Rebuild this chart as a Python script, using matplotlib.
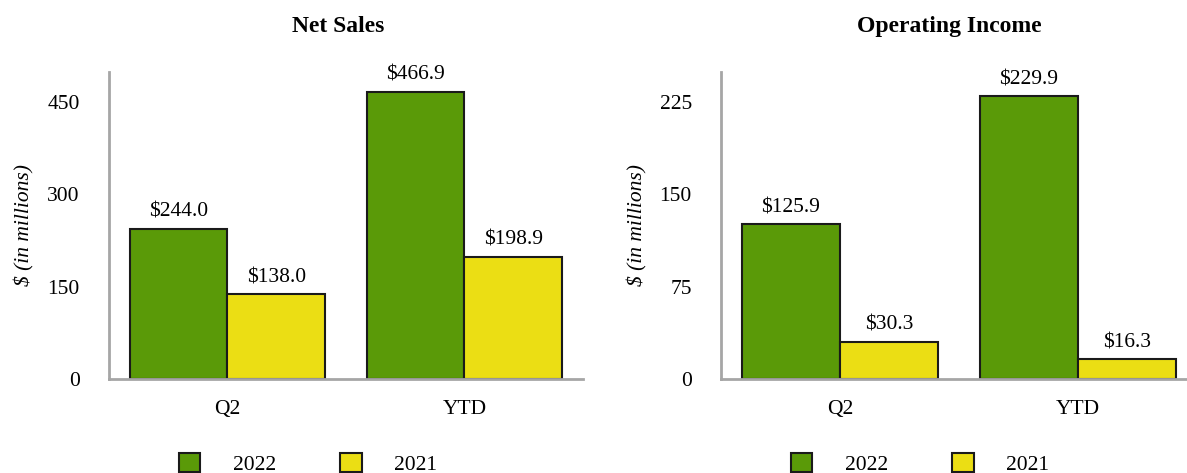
import matplotlib.pyplot as plt
from matplotlib.patches import Patch

# Quarterly results, $ in millions
periods = ["Q2", "YTD"]
net_sales_2022 = [244.0, 466.9]
net_sales_2021 = [138.0, 198.9]
op_income_2022 = [125.9, 229.9]
op_income_2021 = [30.3, 16.3]

GREEN = "#5a9a08"
YELLOW = "#ebde14"
EDGE = "#1a1a1a"
SPINE = "#a6a6a6"

plt.rcParams["font.family"] = ["Liberation Serif", "DejaVu Serif"]

fig = plt.figure(figsize=(11.87, 4.73), dpi=100)


def draw_panel(rect, title, title_x, vals_new, vals_old, ylim, yticks, label_x, legend_x):
    ax = fig.add_axes(rect)
    x = range(len(periods))
    w = 0.413
    b1 = ax.bar([i - w / 2 for i in x], vals_new, width=w, color=GREEN,
                edgecolor=EDGE, linewidth=1.5)
    b2 = ax.bar([i + w / 2 for i in x], vals_old, width=w, color=YELLOW,
                edgecolor=EDGE, linewidth=1.5)
    for bars, vals in ((b1, vals_new), (b2, vals_old)):
        for bar, v in zip(bars, vals):
            ax.annotate(f"${v:.1f}", (bar.get_x() + bar.get_width() / 2, v),
                        xytext=(0, 5), textcoords="offset points",
                        ha="center", va="bottom", fontsize=15.5)

    ax.set_xlim(-0.5, 1.5)
    ax.set_ylim(*ylim)
    ax.set_yticks(yticks)
    ax.set_xticks(list(x))
    ax.set_xticklabels(periods)
    ax.tick_params(length=0, labelsize=15.5)
    ax.tick_params(axis="y", pad=21)
    ax.tick_params(axis="x", pad=15)
    for side in ("top", "right"):
        ax.spines[side].set_visible(False)
    for side in ("left", "bottom"):
        ax.spines[side].set_color(SPINE)
        ax.spines[side].set_linewidth(2)

    fig.text(title_x, 0.945, title, ha="center", va="center",
             fontsize=17, fontweight="bold")
    fig.text(label_x, 0.525, "$ (in millions)", rotation=90, ha="center",
             va="center", fontsize=15.5, style="italic")

    handles = [Patch(facecolor=GREEN, edgecolor=EDGE, linewidth=1.5),
               Patch(facecolor=YELLOW, edgecolor=EDGE, linewidth=1.5)]
    fig.legend(handles, ["2022", "2021"], loc="center",
               bbox_to_anchor=(legend_x, 0.02), ncol=2, frameon=False,
               fontsize=15.5, handlelength=1.0, handleheight=1.0,
               handletextpad=1.5, columnspacing=3.0)
    return ax


draw_panel([0.0918, 0.1987, 0.3993, 0.649], "Net Sales", 338 / 1187,
           net_sales_2022, net_sales_2021, (0, 499), [0, 150, 300, 450],
           24 / 1187, 308 / 1187)
draw_panel([0.6074, 0.1987, 0.401, 0.649], "Operating Income", 949 / 1187,
           op_income_2022, op_income_2021, (0, 249.5), [0, 75, 150, 225],
           637 / 1187, 920 / 1187)

fig.savefig("out.png", dpi=100)
